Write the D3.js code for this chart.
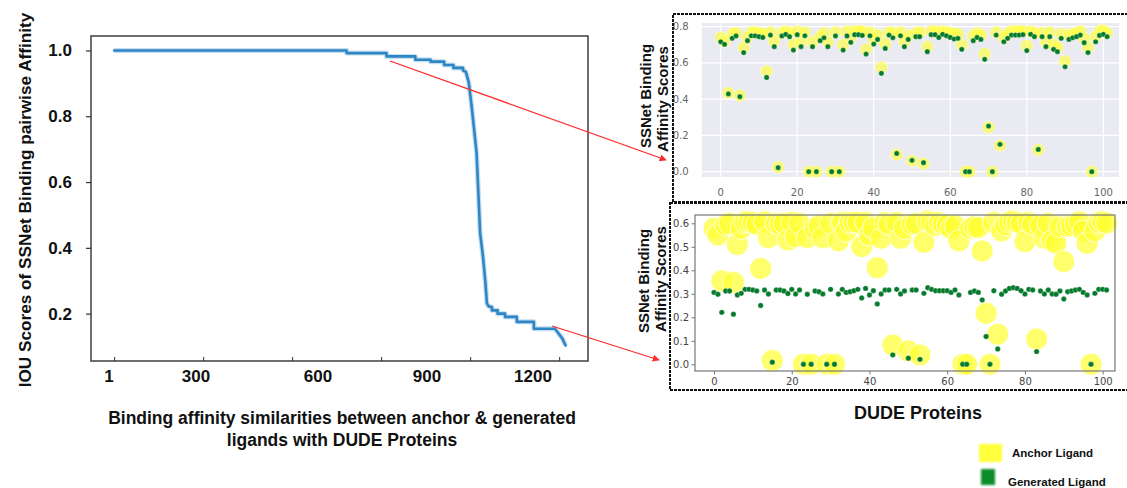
<!DOCTYPE html>
<html><head><meta charset="utf-8">
<script src="https://cdn.jsdelivr.net/npm/d3@7"></script>
<style>body{margin:0;background:#fff}svg{display:block}</style>
</head><body>
<script>
// ---------- DATA ----------
// Left: sorted IOU scores (breakpoints of the step curve: rank index, score)
const rankIdx  = [0,653,653,765,765,846,846,889,889,927,927,953,953,980,980,988,996,1004,1012,1018,1023,1028,1036,1043,1047,1052,1061,1061,1077,1077,1098,1098,1131,1131,1179,1179,1238,1249,1259,1268];
const iouScore = [1.0,1.0,0.992,0.992,0.982,0.982,0.972,0.972,0.966,0.966,0.956,0.956,0.947,0.947,0.939,0.935,0.903,0.832,0.75,0.689,0.567,0.445,0.373,0.292,0.231,0.222,0.22,0.21,0.21,0.2,0.2,0.19,0.19,0.175,0.175,0.154,0.154,0.139,0.124,0.103];
const leftYTicks = [0.2,0.4,0.6,0.8,1.0];
const leftXTicks = [0,250,500,750,1000,1250];
const leftXLabels = [1,300,600,900,1200];

// Right: 102 DUDE proteins
const proteins = d3.range(102);
const anchorTop = [0.74,0.72,0.435,0.76,0.765,0.42,0.685,0.74,0.77,0.77,0.765,0.76,0.555,0.77,0.72,0.025,0.765,0.775,0.765,0.70,0.775,0.72,0.77,0.0,0.715,0.0,0.745,0.765,0.715,0.0,0.77,0.0,0.70,0.775,0.74,0.775,0.775,0.775,0.675,0.77,0.73,0.755,0.575,0.705,0.77,0.765,0.095,0.77,0.72,0.75,0.06,0.765,0.77,0.045,0.69,0.775,0.775,0.765,0.775,0.77,0.765,0.76,0.76,0.70,0.0,0.0,0.75,0.765,0.755,0.65,0.245,0.0,0.77,0.145,0.74,0.76,0.775,0.775,0.775,0.775,0.695,0.775,0.765,0.12,0.765,0.715,0.77,0.70,0.685,0.76,0.61,0.755,0.76,0.765,0.775,0.735,0.685,0.0,0.745,0.775,0.78,0.765];
const generatedTop = [0.717,0.703,0.429,0.736,0.749,0.414,0.657,0.723,0.75,0.75,0.745,0.741,0.52,0.754,0.69,0.022,0.749,0.758,0.745,0.671,0.756,0.69,0.75,0.0,0.69,0.0,0.723,0.739,0.69,0.0,0.749,0.0,0.671,0.749,0.714,0.756,0.756,0.752,0.649,0.75,0.704,0.73,0.543,0.68,0.754,0.739,0.101,0.75,0.69,0.73,0.063,0.745,0.745,0.05,0.662,0.756,0.756,0.741,0.758,0.75,0.741,0.732,0.736,0.675,0.0,0.0,0.723,0.741,0.73,0.62,0.252,0.0,0.754,0.151,0.717,0.736,0.754,0.754,0.754,0.756,0.668,0.758,0.745,0.123,0.745,0.69,0.745,0.675,0.662,0.736,0.579,0.73,0.739,0.745,0.754,0.712,0.657,0.0,0.717,0.752,0.758,0.745];
const anchorBottom = [0.579,0.55,0.355,0.593,0.6,0.349,0.51,0.578,0.607,0.607,0.604,0.596,0.408,0.607,0.539,0.016,0.6,0.596,0.6,0.529,0.604,0.543,0.6,0.0,0.539,0.0,0.578,0.59,0.539,0.0,0.6,0.0,0.525,0.604,0.567,0.604,0.604,0.604,0.501,0.604,0.55,0.58,0.411,0.536,0.604,0.596,0.082,0.604,0.536,0.578,0.057,0.596,0.6,0.04,0.519,0.61,0.604,0.59,0.604,0.596,0.593,0.578,0.59,0.525,0.0,0.0,0.578,0.586,0.582,0.482,0.217,0.0,0.604,0.128,0.567,0.593,0.607,0.61,0.604,0.6,0.522,0.604,0.596,0.108,0.59,0.536,0.6,0.525,0.515,0.586,0.437,0.586,0.59,0.596,0.607,0.567,0.515,0.0,0.567,0.604,0.607,0.6];
const generatedBottom = [0.306,0.298,0.221,0.312,0.312,0.213,0.295,0.302,0.319,0.319,0.316,0.312,0.25,0.316,0.299,0.009,0.316,0.316,0.312,0.301,0.319,0.299,0.316,0.0,0.298,0.0,0.312,0.309,0.299,0.0,0.319,0.0,0.299,0.319,0.306,0.309,0.313,0.319,0.282,0.323,0.295,0.313,0.257,0.299,0.316,0.316,0.04,0.319,0.299,0.312,0.026,0.316,0.316,0.021,0.302,0.326,0.319,0.313,0.313,0.313,0.313,0.306,0.316,0.295,0.0,0.0,0.306,0.312,0.306,0.274,0.118,0.0,0.313,0.065,0.298,0.312,0.323,0.326,0.323,0.313,0.299,0.319,0.316,0.054,0.312,0.299,0.316,0.299,0.298,0.312,0.278,0.309,0.312,0.316,0.319,0.306,0.295,0.0,0.302,0.319,0.319,0.316];
const topYTicks = [0.0,0.2,0.4,0.6,0.8];
const bottomYTicks = [0.0,0.1,0.2,0.3,0.4,0.5,0.6];
const proteinTicks = [0,20,40,60,80,100];
const legendItems = ["Anchor Ligand","Generated Ligand"];

// ---------- DRAW ----------
const W = 1127, H = 488;
const svg = d3.select("body").append("svg").attr("width", W).attr("height", H);
const defs = svg.append("defs");
defs.append("filter").attr("id","blur").append("feGaussianBlur").attr("stdDeviation",1.2);
const mk = defs.append("marker").attr("id","arrow").attr("viewBox","0 0 10 10")
  .attr("refX",9).attr("refY",5).attr("markerWidth",7).attr("markerHeight",7)
  .attr("markerUnits","userSpaceOnUse").attr("orient","auto");
mk.append("path").attr("d","M0,0 L10,5 L0,10 z").attr("fill","#ff2a2a");

const HF = "'Liberation Sans', Arial, Helvetica, sans-serif";
const MF = "'DejaVu Sans', sans-serif";

// ===== Left chart =====
const xL = d3.scaleLinear().domain([-65, 1331]).range([91, 588]);
const yL = d3.scaleLinear().domain([0.056, 1.044]).range([361, 36]);
const xLab = d3.scaleLinear().domain(leftXLabels).range([109, 196, 318, 427, 533]);

const gL = svg.append("g");
gL.append("rect").attr("x", xL.range()[0]).attr("y", yL.range()[1])
  .attr("width", xL.range()[1]-xL.range()[0]).attr("height", yL.range()[0]-yL.range()[1])
  .attr("fill","none").attr("stroke","#4a4a4a").attr("stroke-width",1.6);

const yAxL = gL.append("g").attr("transform",`translate(${xL.range()[0]},0)`)
  .call(d3.axisLeft(yL).tickValues(leftYTicks).tickFormat(d3.format(".1f")).tickSize(5).tickPadding(14));
yAxL.select(".domain").remove();
yAxL.selectAll("line").attr("stroke","#333").attr("stroke-width",1.2);
yAxL.selectAll("text").attr("font-family",HF).attr("font-weight","bold").attr("font-size",17).attr("fill","#111");

const xAxL = gL.append("g").attr("transform",`translate(0,${yL.range()[0]})`)
  .call(d3.axisBottom(xL).tickValues(leftXTicks).tickSize(-4).tickFormat(""));
xAxL.select(".domain").remove();
xAxL.selectAll("line").attr("stroke","#333").attr("stroke-width",1);
gL.append("g").selectAll("text").data(leftXLabels).join("text")
  .attr("x", d => xLab(d)).attr("y", 382).attr("text-anchor","middle")
  .attr("font-family",HF).attr("font-weight","bold").attr("font-size",17).attr("fill","#111")
  .text(d => d);

const lineL = d3.line().x(d => xL(d[0])).y(d => yL(d[1]));
const pts = rankIdx.map((r,i) => [r, iouScore[i]]);
gL.append("path").attr("d", lineL(pts)).attr("fill","none").attr("stroke","#9cc6e6")
  .attr("stroke-width",5).attr("stroke-opacity",0.6).attr("stroke-linejoin","round");
gL.append("path").attr("d", lineL(pts)).attr("fill","none").attr("stroke","#2f86c5")
  .attr("stroke-width",2.6).attr("stroke-linejoin","round").attr("stroke-linecap","round");

gL.append("text").attr("transform","translate(31,200) rotate(-90)").attr("text-anchor","middle")
  .attr("font-family",HF).attr("font-weight","bold").attr("font-size",17.2).attr("fill","#111")
  .text("IOU Scores of SSNet Binding pairwise Affinity");
const tt = gL.append("text").attr("text-anchor","middle").attr("font-family",HF)
  .attr("font-weight","bold").attr("font-size",17.5).attr("fill","#111");
tt.append("tspan").attr("x",342).attr("y",424).text("Binding affinity similarities between anchor & generated");
tt.append("tspan").attr("x",342).attr("y",446).text("ligands with DUDE Proteins");

// ===== Top-right panel (darkgrid) =====
const xT = d3.scaleLinear().domain([-4.97, 104.1]).range([701.7, 1119]);
const yT = d3.scaleLinear().domain([-0.0292, 0.8204]).range([177, 23]);
const gT = svg.append("g");
gT.append("rect").attr("x",xT.range()[0]).attr("y",yT.range()[1])
  .attr("width",xT.range()[1]-xT.range()[0]).attr("height",yT.range()[0]-yT.range()[1]).attr("fill","#eaeaf2");
gT.append("g").selectAll("line").data(proteinTicks).join("line")
  .attr("x1",d=>xT(d)).attr("x2",d=>xT(d)).attr("y1",yT.range()[1]).attr("y2",yT.range()[0])
  .attr("stroke","#fff").attr("stroke-width",1.2);
gT.append("g").selectAll("line").data(topYTicks).join("line")
  .attr("y1",d=>yT(d)).attr("y2",d=>yT(d)).attr("x1",xT.range()[0]).attr("x2",xT.range()[1])
  .attr("stroke","#fff").attr("stroke-width",1.2);
gT.append("g").selectAll("text").data(topYTicks).join("text")
  .attr("x",xT.range()[0]-13).attr("y",d=>yT(d)+3.5).attr("text-anchor","end")
  .attr("font-family",MF).attr("font-size",10).attr("fill","#666").text(d3.format(".1f"));
gT.append("g").selectAll("text").data(proteinTicks).join("text")
  .attr("x",d=>xT(d)).attr("y",196).attr("text-anchor","middle")
  .attr("font-family",MF).attr("font-size",10).attr("fill","#666").text(d=>d);
gT.append("g").selectAll("circle").data(proteins).join("circle")
  .attr("cx",d=>xT(d)).attr("cy",d=>yT(anchorTop[d])).attr("r",6.2)
  .attr("fill","#ffff33").attr("fill-opacity",0.62).attr("stroke","#fff").attr("stroke-width",0.6).attr("stroke-opacity",0.6);
gT.append("g").selectAll("circle").data(proteins).join("circle")
  .attr("cx",d=>xT(d)).attr("cy",d=>yT(generatedTop[d])).attr("r",2.6)
  .attr("fill","#067a2c").attr("stroke","#fff").attr("stroke-width",0.3);
gT.append("rect").attr("x",673).attr("y",14).attr("width",470).attr("height",188)
  .attr("fill","none").attr("stroke","#111").attr("stroke-width",2).attr("stroke-dasharray","3,1");
gT.append("text").attr("transform","translate(651,96) rotate(-90)").attr("text-anchor","middle")
  .attr("font-family",HF).attr("font-weight","bold").attr("font-size",15).attr("fill","#111").text("SSNet Binding");
gT.append("text").attr("transform","translate(668,99) rotate(-90)").attr("text-anchor","middle")
  .attr("font-family",HF).attr("font-weight","bold").attr("font-size",15).attr("fill","#111").text("Affinity Scores");

// ===== Bottom-right panel (classic) =====
const xB = d3.scaleLinear().domain([-4.89, 103.17]).range([695, 1115]);
const yB = d3.scaleLinear().domain([-0.0285, 0.6353]).range([371, 215]);
const gB = svg.append("g");
gB.append("g").selectAll("circle").data(proteins).join("circle")
  .attr("cx",d=>xB(d)).attr("cy",d=>yB(anchorBottom[d])).attr("r",11)
  .attr("fill","#ffff33").attr("fill-opacity",0.72).attr("stroke","#fff").attr("stroke-width",0.8);
gB.append("g").selectAll("circle").data(proteins).join("circle")
  .attr("cx",d=>xB(d)).attr("cy",d=>yB(generatedBottom[d])).attr("r",2.7)
  .attr("fill","#067a2c").attr("stroke","#fff").attr("stroke-width",0.3);
gB.append("rect").attr("x",xB.range()[0]).attr("y",yB.range()[1])
  .attr("width",xB.range()[1]-xB.range()[0]).attr("height",yB.range()[0]-yB.range()[1])
  .attr("fill","none").attr("stroke","#777").attr("stroke-width",1.2);
const yAxB = gB.append("g").attr("transform",`translate(${xB.range()[0]},0)`)
  .call(d3.axisLeft(yB).tickValues(bottomYTicks).tickFormat(d3.format(".1f")).tickSize(3.5).tickPadding(2.5));
yAxB.select(".domain").remove();
yAxB.selectAll("line").attr("stroke","#777");
yAxB.selectAll("text").attr("font-family",MF).attr("font-size",10).attr("fill","#444");
const xAxB = gB.append("g").attr("transform",`translate(0,${yB.range()[0]})`)
  .call(d3.axisBottom(xB).tickValues(proteinTicks).tickSize(3.5).tickPadding(3));
xAxB.select(".domain").remove();
xAxB.selectAll("line").attr("stroke","#777");
xAxB.selectAll("text").attr("font-family",MF).attr("font-size",10).attr("fill","#444");
gB.append("rect").attr("x",670).attr("y",203).attr("width",470).attr("height",187)
  .attr("fill","none").attr("stroke","#111").attr("stroke-width",2).attr("stroke-dasharray","3,1");
gB.append("text").attr("transform","translate(649,281) rotate(-90)").attr("text-anchor","middle")
  .attr("font-family",HF).attr("font-weight","bold").attr("font-size",15).attr("fill","#111").text("SSNet Binding");
gB.append("text").attr("transform","translate(666,279) rotate(-90)").attr("text-anchor","middle")
  .attr("font-family",HF).attr("font-weight","bold").attr("font-size",15).attr("fill","#111").text("Affinity Scores");
gB.append("text").attr("x",918).attr("y",419).attr("text-anchor","middle")
  .attr("font-family",HF).attr("font-weight","bold").attr("font-size",18).attr("fill","#111").text("DUDE Proteins");

// ===== Arrows =====
svg.append("line").attr("x1",390).attr("y1",61).attr("x2",666).attr("y2",160)
  .attr("stroke","#ff2a2a").attr("stroke-width",1.3).attr("marker-end","url(#arrow)");
svg.append("line").attr("x1",552).attr("y1",326).attr("x2",659).attr("y2",360)
  .attr("stroke","#ff2a2a").attr("stroke-width",1.3).attr("marker-end","url(#arrow)");

// ===== Legend =====
const lg = svg.append("g");
const legColors = ["#ffff3a","#0c8a2a"];
const legY = [453, 478];
lg.selectAll("rect").data(legendItems).join("rect")
  .attr("x",(d,i)=> i===0 ? 979 : 981).attr("y",(d,i)=>legY[i]-9)
  .attr("width",(d,i)=> i===0 ? 23 : 14).attr("height",(d,i)=> i===0 ? 18 : 16)
  .attr("fill",(d,i)=>legColors[i]).attr("filter","url(#blur)");
lg.selectAll("text").data(legendItems).join("text")
  .attr("x",(d,i)=> i===0 ? 1012 : 1008).attr("y",(d,i)=>legY[i]+4 + (i===1?4:0))
  .attr("font-family",HF).attr("font-weight","bold").attr("font-size",11.5).attr("fill","#111").text(d=>d);
</script>
</body></html>
